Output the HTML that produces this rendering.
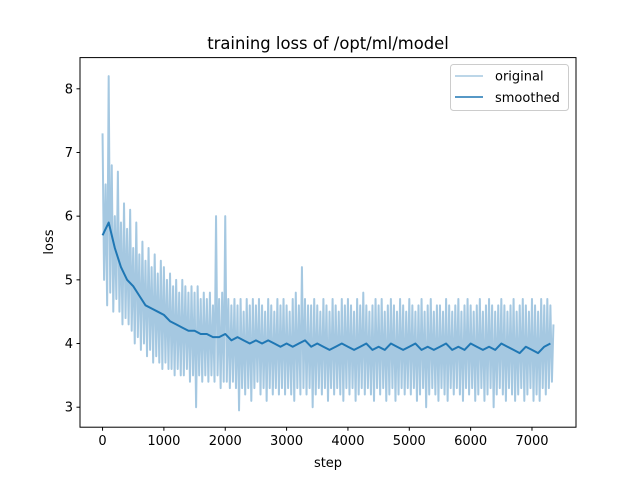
<!DOCTYPE html>
<html><head><meta charset="utf-8"><style>
body{margin:0;background:#fff;}
svg text{font-family:"DejaVu Sans","Liberation Sans",sans-serif;fill:#000;}
</style></head><body>
<svg id="chart" width="640" height="480" xmlns="http://www.w3.org/2000/svg">
<rect width="640" height="480" fill="#fff"/>
<text x="328" y="49" font-size="16.4" text-anchor="middle">training loss of /opt/ml/model</text>
<g id="plot"></g>
<rect x="80" y="57.6" width="496" height="369.6" fill="none" stroke="#000" stroke-width="1"/>
<g id="xticks"></g><g id="yticks"></g>
<text x="328" y="467" font-size="13" text-anchor="middle">step</text>
<text x="0" y="0" font-size="13" text-anchor="middle" transform="translate(53,242) rotate(-90)">loss</text>
<g>
<rect x="450.5" y="64.5" width="118" height="46" rx="3" fill="#fff" fill-opacity="0.8" stroke="#ccc"/>
<line x1="455" y1="76" x2="483" y2="76" stroke="#a5c8e1" stroke-width="1.5"/>
<text x="495" y="80.5" font-size="13">original</text>
<line x1="455" y1="97" x2="483" y2="97" stroke="#1f77b4" stroke-width="1.5"/>
<text x="495" y="102" font-size="13">smoothed</text>
</g>
</svg>
<script>
const origStep = 25;
const originalValues = [
7.3,5.0,6.5,4.6,8.2,4.8,6.8,4.5,6.0,4.7,6.7,4.5,5.9,4.3,6.2,4.4,5.8,4.3,6.1,4.2,
5.5,4.0,5.9,4.1,5.4,3.9,5.6,4.0,5.3,3.8,5.5,3.9,5.2,3.7,5.4,3.8,5.1,3.7,5.3,3.6,
5.2,3.7,5.0,3.6,5.1,3.6,4.9,3.5,5.0,3.6,4.8,3.5,5.0,3.5,4.9,3.6,4.8,3.4,4.9,3.5,
4.8,3.0,4.9,3.5,4.7,3.4,4.8,3.5,4.7,3.4,4.8,3.5,4.6,3.4,6.0,3.5,4.7,3.3,4.8,3.4,
6.0,3.4,4.7,3.3,4.6,3.4,4.7,3.3,4.6,2.95,4.7,3.3,4.5,3.2,4.7,3.3,4.6,3.1,4.7,3.3,
4.6,3.4,4.7,3.2,4.6,3.3,4.5,3.1,4.7,3.3,4.6,3.2,4.5,3.3,4.7,3.2,4.6,3.3,4.7,3.2,
4.6,3.3,4.5,3.2,4.7,3.1,4.8,3.3,4.6,3.2,5.2,3.3,4.7,3.2,4.6,3.3,4.6,3.0,4.7,3.2,
4.6,3.3,4.5,3.2,4.7,3.3,4.6,3.1,4.5,3.3,4.7,3.2,4.6,3.3,4.5,3.2,4.7,3.1,4.6,3.3,
4.7,3.2,4.6,3.3,4.5,3.1,4.7,3.2,4.6,3.3,4.8,3.2,4.6,3.3,4.5,3.2,4.6,3.1,4.7,3.3,
4.6,3.2,4.7,3.3,4.5,3.1,4.6,3.2,4.7,3.3,4.6,3.1,4.5,3.2,4.7,3.3,4.6,3.2,4.5,3.3,
4.7,3.2,4.6,3.3,4.5,3.1,4.6,3.2,4.7,3.3,4.5,3.0,4.6,3.2,4.7,3.3,4.5,3.2,4.6,3.1,
4.6,3.3,4.5,3.2,4.7,3.1,4.6,3.3,4.5,3.2,4.6,3.3,4.7,3.2,4.5,3.1,4.6,3.3,4.7,3.2,
4.6,3.3,4.5,3.1,4.6,3.2,4.7,3.3,4.5,3.1,4.6,3.2,4.7,3.3,4.6,3.0,4.5,3.2,4.6,3.3,
4.7,3.2,4.6,3.1,4.5,3.3,4.6,3.2,4.7,3.1,4.5,3.2,4.6,3.3,4.7,3.1,4.6,3.2,4.5,3.3,
4.7,3.1,4.6,3.2,4.5,3.1,4.7,3.3,4.6,3.2,4.7,3.3,4.6,3.4,4.3];
const smoothStep = 100;
const smoothedValues = [5.7,5.9,5.5,5.2,5.0,4.9,4.75,4.6,4.55,4.5,4.45,4.35,4.3,4.25,4.2,4.2,4.15,4.15,4.1,4.1,
4.15,4.05,4.1,4.05,4.0,4.05,4.0,4.05,4.0,3.95,4.0,3.95,4.0,4.05,3.95,4.0,3.95,3.9,3.95,4.0,
3.95,3.9,3.95,4.0,3.9,3.95,3.9,4.0,3.95,3.9,3.95,4.0,3.9,3.95,3.9,3.95,4.0,3.9,3.95,3.9,
4.0,3.95,3.9,3.95,3.9,4.0,3.95,3.9,3.85,3.95,3.9,3.85,3.95,4.0];
const xTicks = [0,1000,2000,3000,4000,5000,6000,7000];
const yTicks = [3,4,5,6,7,8];

const NS="http://www.w3.org/2000/svg";
const X0=80,X1=576,Y0=57.6,Y1=427.2;
const xmin=-367.5,xmax=7717.5,ymin=2.686,ymax=8.49;
const sx=v=>X0+(v-xmin)/(xmax-xmin)*(X1-X0);
const sy=v=>Y1-(v-ymin)/(ymax-ymin)*(Y1-Y0);
function mk(t,a,p){const e=document.createElementNS(NS,t);for(const k in a)e.setAttribute(k,a[k]);p.appendChild(e);return e;}
const plot=document.getElementById('plot');
let d=originalValues.map((v,i)=>(i?'L':'M')+sx(i*origStep).toFixed(2)+','+sy(v).toFixed(2)).join('');
const p1=mk('path',{d:d,fill:'none',stroke:'#a5c8e1','stroke-width':2,'stroke-linejoin':'round'},plot);


d=smoothedValues.map((v,i)=>(i?'L':'M')+sx(Math.min(i*smoothStep,7350)).toFixed(2)+','+sy(v).toFixed(2)).join('');
const p2=mk('path',{d:d,fill:'none',stroke:'#1f77b4','stroke-width':2,'stroke-linejoin':'round'},plot);


const xg=document.getElementById('xticks');
xTicks.forEach(t=>{const x=sx(t);
 const l=mk('line',{x1:x,y1:Y1,x2:x,y2:Y1+3.5,stroke:'#000'},xg);
 
 
 const tx=mk('text',{x:x,y:Y1+18,'font-size':13,'text-anchor':'middle'},xg);tx.textContent=t;
 
 });
const yg=document.getElementById('yticks');
yTicks.forEach(t=>{const y=sy(t);
 const l=mk('line',{x1:X0-3.5,y1:y,x2:X0,y2:y,stroke:'#000'},yg);
 
 
 const tx=mk('text',{x:X0-7,y:y+4.5,'font-size':13,'text-anchor':'end'},yg);tx.textContent=t;
 
 });
</script>
</body></html>
